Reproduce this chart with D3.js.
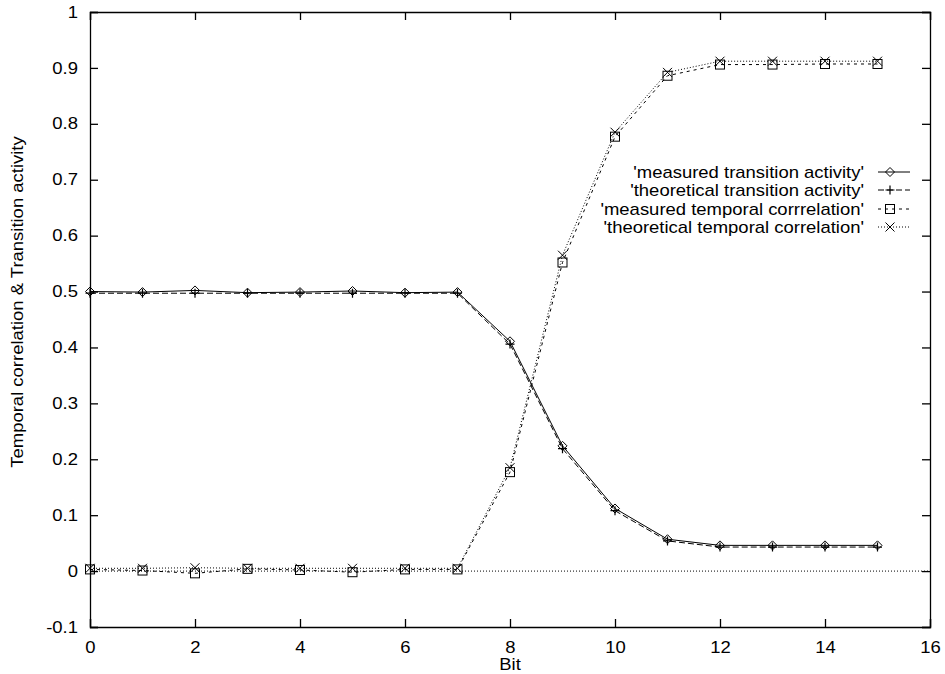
<!DOCTYPE html>
<meta charset="utf-8">
<style>
body { margin: 0; background: #fff; }
text { font-family: "Liberation Sans", Arial, sans-serif; font-size: 16px; fill: #000; }
</style>
<svg width="945" height="674"></svg>
<script src="https://d3js.org/d3.v7.min.js"></script>
<script>

var bits = [0,1,2,3,4,5,6,7,8,9,10,11,12,13,14,15];

var measuredActivity    = [0.500,0.499,0.502,0.498,0.499,0.501,0.498,0.499,0.411,0.224,0.112,0.057,0.046,0.046,0.046,0.046];
var theoreticalActivity = [0.497,0.497,0.497,0.497,0.497,0.497,0.497,0.497,0.406,0.219,0.108,0.054,0.043,0.043,0.043,0.043];
var measuredCorr        = [0.003,0.001,-0.004,0.004,0.002,-0.002,0.003,0.003,0.177,0.552,0.777,0.886,0.906,0.906,0.907,0.907];
var theoreticalCorr     = [0.005,0.005,0.006,0.005,0.005,0.005,0.005,0.005,0.185,0.565,0.785,0.892,0.912,0.912,0.912,0.912];

var seriesNames = ["'measured transition activity'", "'theoretical transition activity'",
                   "'measured temporal corrrelation'", "'theoretical temporal correlation'"];

var xTicks = [0,2,4,6,8,10,12,14,16];
var yTicks = [-0.1,0,0.1,0.2,0.3,0.4,0.5,0.6,0.7,0.8,0.9,1];

var svg = d3.select("svg");
var plotLeft = 90, plotRight = 930, plotTop = 12, plotBottom = 627;
var stretch = 1.155; // the reference font is a slightly widened Helvetica

var x = d3.scaleLinear().domain([0, 16]).range([plotLeft, plotRight]);
var y = d3.scaleLinear().domain([-0.1, 1]).range([plotBottom, plotTop]);

var series = [
  {name: seriesNames[0], values: measuredActivity, dash: null, marker: "diamond"},
  {name: seriesNames[1], values: theoreticalActivity, dash: "6,3", marker: "plus"},
  {name: seriesNames[2], values: measuredCorr, dash: "3,4", marker: "square"},
  {name: seriesNames[3], values: theoreticalCorr, dash: "1,2", marker: "cross"}
];

// zero line
svg.append("line")
    .attr("x1", x(0)).attr("x2", x(16))
    .attr("y1", y(0)).attr("y2", y(0))
    .attr("stroke", "#000").attr("stroke-width", 1)
    .attr("stroke-dasharray", "1,2");

// axes (ticks inward, mirrored)
var fmt = function(d) { return String(Math.round(d * 10) / 10); };
svg.append("g").attr("transform", "translate(0," + plotBottom + ")")
    .call(d3.axisBottom(x).tickValues(xTicks).tickSize(-8).tickPadding(15).tickFormat(d3.format("d")));
svg.append("g").attr("transform", "translate(0," + plotTop + ")")
    .call(d3.axisTop(x).tickValues(xTicks).tickSize(-8).tickFormat(""));
svg.append("g").attr("transform", "translate(" + plotLeft + ",0)")
    .call(d3.axisLeft(y).tickValues(yTicks).tickSize(-8).tickPadding(12).tickFormat(fmt));
svg.append("g").attr("transform", "translate(" + plotRight + ",0)")
    .call(d3.axisRight(y).tickValues(yTicks).tickSize(-8).tickFormat(""));

svg.selectAll(".domain").attr("stroke", "#000").attr("stroke-width", 1.3);
svg.selectAll(".tick line").attr("stroke", "#000").attr("stroke-width", 1.3);
svg.selectAll(".tick text")
    .style("font-size", "16px").style("font-family", "Liberation Sans, Arial, sans-serif")
    .each(function() {
      var t = d3.select(this);
      var tx = +t.attr("x") || 0, ty = +t.attr("y") || 0;
      t.attr("x", 0).attr("y", 0)
       .attr("transform", "translate(" + tx + "," + ty + ") scale(" + stretch + ",1)");
    });

// titles
svg.append("text").attr("transform", "translate(" + x(8) + ",670) scale(" + stretch + ",1)")
    .attr("text-anchor", "middle").text("Bit");
svg.append("text")
    .attr("transform", "translate(23,302) rotate(-90) scale(" + stretch + ",1)")
    .attr("text-anchor", "middle")
    .text("Temporal correlation & Transition activity");

function drawMarker(g, type, cx, cy) {
  var s = 4.5;
  if (type === "diamond") {
    g.append("path").attr("d", "M" + cx + "," + (cy - s) + "L" + (cx + s) + "," + cy + "L" + cx + "," + (cy + s) + "L" + (cx - s) + "," + cy + "Z")
      .attr("fill", "none").attr("stroke", "#000").attr("stroke-width", 1);
  } else if (type === "plus") {
    g.append("path").attr("d", "M" + (cx - s) + "," + cy + "H" + (cx + s) + "M" + cx + "," + (cy - s) + "V" + (cy + s))
      .attr("stroke", "#000").attr("stroke-width", 1.2);
  } else if (type === "square") {
    g.append("rect").attr("x", cx - s).attr("y", cy - s).attr("width", 2 * s).attr("height", 2 * s)
      .attr("fill", "none").attr("stroke", "#000").attr("stroke-width", 1);
  } else {
    g.append("path").attr("d", "M" + (cx - s) + "," + (cy - s) + "L" + (cx + s) + "," + (cy + s) + "M" + (cx + s) + "," + (cy - s) + "L" + (cx - s) + "," + (cy + s))
      .attr("stroke", "#000").attr("stroke-width", 1);
  }
}

var line = d3.line()
    .x(function(d, i) { return x(bits[i]); })
    .y(function(d) { return y(d); });

series.forEach(function(s) {
  var g = svg.append("g");
  g.append("path").attr("d", line(s.values))
      .attr("fill", "none").attr("stroke", "#000").attr("stroke-width", 1)
      .attr("stroke-dasharray", s.dash);
  s.values.forEach(function(v, i) { drawMarker(g, s.marker, x(bits[i]), y(v)); });
});

// legend
var legY = [172, 190, 209, 227];
series.forEach(function(s, i) {
  var ly = legY[i];
  svg.append("text").attr("transform", "translate(864," + (ly + 6) + ") scale(" + stretch + ",1)")
      .attr("text-anchor", "end").text(s.name);
  svg.append("line").attr("x1", 878).attr("x2", 910).attr("y1", ly).attr("y2", ly)
      .attr("stroke", "#000").attr("stroke-width", 1).attr("stroke-dasharray", s.dash);
  drawMarker(svg, s.marker, 890, ly);
});

</script>
